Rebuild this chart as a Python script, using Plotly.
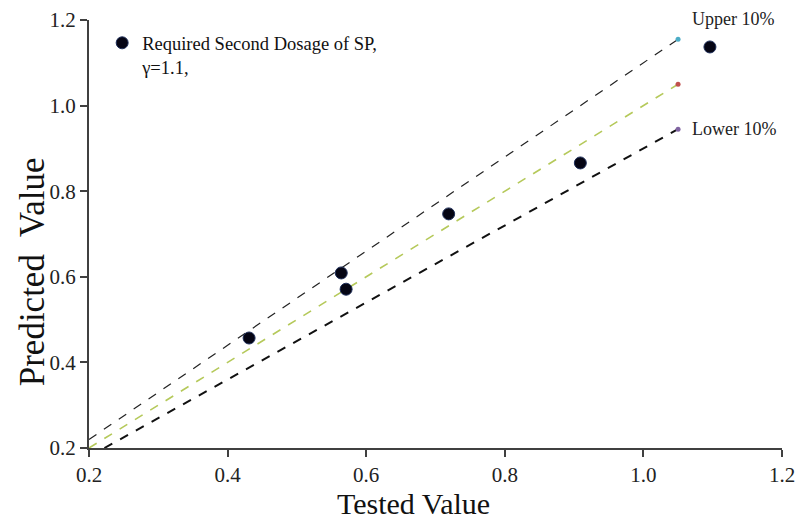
import plotly.graph_objects as go

tested = [0.431, 0.564, 0.571, 0.719, 0.909, 1.096]
predicted = [0.457, 0.609, 0.571, 0.747, 0.866, 1.137]

ref_x = [0.2, 1.05]
upper_factor = 1.1
lower_factor = 0.9
lower_start = 0.2 / lower_factor

x_ticks = [0.2, 0.4, 0.6, 0.8, 1.0, 1.2]
y_ticks = [0.2, 0.4, 0.6, 0.8, 1.0, 1.2]

serif = "Liberation Serif, Times New Roman, serif"
fig = go.Figure()

# upper 10% line
fig.add_trace(go.Scatter(x=ref_x, y=[v * upper_factor for v in ref_x], mode="lines",
                         line=dict(color="#222222", width=1.2, dash="dash"), showlegend=False, hoverinfo="skip"))
fig.add_trace(go.Scatter(x=[ref_x[1]], y=[ref_x[1] * upper_factor], mode="markers",
                         marker=dict(color="#4bacc6", size=5), showlegend=False))
# equality line
fig.add_trace(go.Scatter(x=ref_x, y=ref_x, mode="lines",
                         line=dict(color="#b5c95a", width=1.6, dash="dash"), showlegend=False, hoverinfo="skip"))
fig.add_trace(go.Scatter(x=[ref_x[1]], y=[ref_x[1]], mode="markers",
                         marker=dict(color="#c0504d", size=5), showlegend=False))
# lower 10% line
fig.add_trace(go.Scatter(x=[lower_start, ref_x[1]], y=[lower_start * lower_factor, ref_x[1] * lower_factor], mode="lines",
                         line=dict(color="#111111", width=2, dash="dash"), showlegend=False, hoverinfo="skip"))
fig.add_trace(go.Scatter(x=[ref_x[1]], y=[ref_x[1] * lower_factor], mode="markers",
                         marker=dict(color="#8064a2", size=5), showlegend=False))

# data
fig.add_trace(go.Scatter(x=tested, y=predicted, mode="markers",
                         name="Required Second Dosage of SP,<br>γ=1.1,",
                         marker=dict(color="#050514", size=12, line=dict(color="#1f2f5a", width=1))))

fig.add_annotation(x=ref_x[1], y=ref_x[1] * upper_factor, text="Upper 10%", showarrow=False,
                   xanchor="left", yanchor="bottom", xshift=12, yshift=8,
                   font=dict(family=serif, size=18, color="#222"))
fig.add_annotation(x=ref_x[1], y=ref_x[1] * lower_factor, text="Lower 10%", showarrow=False,
                   xanchor="left", yanchor="middle", xshift=12,
                   font=dict(family=serif, size=18, color="#222"))

fig.add_annotation(xref="paper", yref="paper", x=-0.082, y=0.411, text="Predicted  Value", textangle=-90,
                   showarrow=False, xanchor="center", yanchor="middle",
                   font=dict(family=serif, size=35, color="#111"))
fig.add_annotation(xref="paper", yref="paper", x=0.468, y=-0.13, text="Tested Value",
                   showarrow=False, xanchor="center", yanchor="middle",
                   font=dict(family=serif, size=30, color="#111"))

axis_common = dict(showgrid=False, zeroline=False, showline=True, linecolor="#404040", linewidth=2,
                   ticks="outside", ticklen=7, tickwidth=1.5, tickcolor="#404040", automargin=False,
                   tickfont=dict(family=serif, size=21, color="#222"), tickformat=".1f")
fig.update_xaxes(range=[0.2, 1.2], tickvals=x_ticks, **axis_common)
fig.update_yaxes(range=[0.2, 1.2], tickvals=y_ticks, **axis_common)

fig.update_layout(
    width=800, height=513,
    margin=dict(l=81, r=26, t=12, b=73),
    plot_bgcolor="white", paper_bgcolor="white",
    showlegend=True,
    legend=dict(x=0.019, y=0.99, xanchor="left", yanchor="top", valign="top",
                bgcolor="rgba(0,0,0,0)", font=dict(family=serif, size=18.5, color="#111")),
)

fig.write_html("out.html")
